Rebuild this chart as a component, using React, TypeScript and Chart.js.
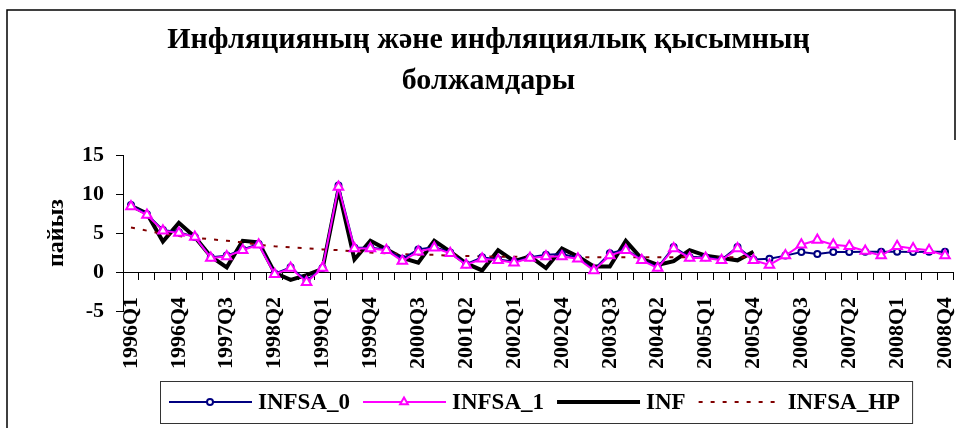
import React, { useEffect, useRef } from 'react';
import { Chart, registerables } from 'chart.js';

Chart.register(...registerables);

const categories = [
  '1996Q1', '1996Q2', '1996Q3', '1996Q4',
  '1997Q1', '1997Q2', '1997Q3', '1997Q4',
  '1998Q1', '1998Q2', '1998Q3', '1998Q4',
  '1999Q1', '1999Q2', '1999Q3', '1999Q4',
  '2000Q1', '2000Q2', '2000Q3', '2000Q4',
  '2001Q1', '2001Q2', '2001Q3', '2001Q4',
  '2002Q1', '2002Q2', '2002Q3', '2002Q4',
  '2003Q1', '2003Q2', '2003Q3', '2003Q4',
  '2004Q1', '2004Q2', '2004Q3', '2004Q4',
  '2005Q1', '2005Q2', '2005Q3', '2005Q4',
  '2006Q1', '2006Q2', '2006Q3', '2006Q4',
  '2007Q1', '2007Q2', '2007Q3', '2007Q4',
  '2008Q1', '2008Q2', '2008Q3', '2008Q4',
];

const tickLabels = [
  '1996Q1', '1996Q4', '1997Q3', '1998Q2', '1999Q1', '1999Q4',
  '2000Q3', '2001Q2', '2002Q1', '2002Q4', '2003Q3', '2004Q2',
  '2005Q1', '2005Q4', '2006Q3', '2007Q2', '2008Q1', '2008Q4',
];

const yTicks = [-5, 0, 5, 10, 15];

const infsa0 = [
  8.6, 7.4, 5.4, 5.1, 4.5, 1.9, 2.1, 2.9, 3.6, -0.2,
  0.6, -1.1, 0.5, 11.1, 3.1, 3.1, 2.9, 1.7, 2.9, 3.2,
  2.5, 1.0, 1.9, 1.6, 1.3, 1.9, 2.2, 2.3, 1.8, 0.3,
  2.4, 2.9, 1.6, 0.6, 3.2, 1.9, 1.9, 1.6, 3.2, 1.6,
  1.7, 2.1, 2.55, 2.3, 2.55, 2.55, 2.6, 2.6, 2.6, 2.55, 2.6, 2.6,
];

const infsa1 = [
  8.4, 7.3, 5.3, 5.0, 4.5, 1.8, 2.0, 2.8, 3.5, -0.3,
  0.5, -1.3, 0.5, 10.9, 3.0, 3.0, 2.8, 1.4, 2.6, 3.1,
  2.4, 0.9, 1.7, 1.5, 1.2, 1.8, 2.0, 2.0, 1.7, 0.2,
  2.1, 2.8, 1.5, 0.5, 3.0, 1.8, 1.8, 1.5, 3.0, 1.5,
  0.9, 2.1, 3.5, 4.1, 3.5, 3.3, 2.7, 2.1, 3.3, 3.0, 2.8, 2.1,
];

const inf = [
  8.5, 7.5, 3.9, 6.3, 4.5, 2.0, 0.6, 4.0, 3.8, -0.1,
  -1.0, -0.4, 0.4, 10.6, 1.6, 4.0, 2.9, 1.8, 1.2, 4.0,
  2.6, 1.1, 0.2, 2.8, 1.4, 2.0, 0.5, 3.0, 2.0, 0.7,
  0.7, 4.0, 1.7, 0.9, 1.4, 2.8, 2.1, 1.8, 1.5, 2.6,
  null, null, null, null, null, null, null, null, null, null, null, null,
];

const infsaHp = [
  5.7, 5.3, 4.9, 4.6, 4.4, 4.2, 4.0, 3.8, 3.5, 3.3,
  3.15, 3.05, 2.9, 2.8, 2.65, 2.5, 2.4, 2.3, 2.2, 2.2,
  2.1, 2.05, 2.0, 1.95, 1.95, 1.95, 1.95, 1.95, 1.9, 1.9,
  1.9, 1.9, 1.9, 1.9, 1.9, 1.9, 1.9, 1.9, 1.9, 1.9,
  null, null, null, null, null, null, null, null, null, null, null, null,
];

const FONT = 'Liberation Serif';

const frameAndLegend = {
  id: 'frameAndLegend',
  afterDraw(chart: any) {
    const ctx = chart.ctx as CanvasRenderingContext2D;
    ctx.save();
    // outer frame
    ctx.strokeStyle = '#000';
    ctx.lineWidth = 1.5;
    ctx.beginPath();
    ctx.moveTo(7, 428);
    ctx.lineTo(7, 10);
    ctx.lineTo(955, 10);
    ctx.lineTo(955, 140);
    ctx.stroke();

    // legend
    const cy = 402;
    ctx.font = `bold 23px "${FONT}"`;
    ctx.textBaseline = 'middle';
    ctx.textAlign = 'left';
    let x = 169;
    chart.data.datasets.forEach((ds: any) => {
      ctx.save();
      ctx.strokeStyle = ds.borderColor;
      ctx.lineWidth = ds.borderWidth;
      ctx.setLineDash(ds.borderDash || []);
      ctx.beginPath();
      ctx.moveTo(x, cy);
      ctx.lineTo(x + 83, cy);
      ctx.stroke();
      ctx.setLineDash([]);
      const mx = x + 41;
      if (ds.pointRadius > 0) {
        ctx.fillStyle = '#fff';
        ctx.strokeStyle = ds.pointBorderColor;
        ctx.lineWidth = 2;
        ctx.beginPath();
        if (ds.pointStyle === 'circle') {
          ctx.arc(mx, cy, 3, 0, Math.PI * 2);
        } else {
          const r = 4.5;
          ctx.moveTo(mx, cy - r);
          ctx.lineTo(mx + r * 0.866, cy + r * 0.5);
          ctx.lineTo(mx - r * 0.866, cy + r * 0.5);
          ctx.closePath();
        }
        ctx.fill();
        ctx.stroke();
      }
      ctx.restore();
      ctx.fillStyle = '#000';
      ctx.fillText(ds.label, x + 89, cy + 1);
      x = x + 89 + ctx.measureText(ds.label).width + 13;
    });
    const right = x - 13 + 12;
    ctx.strokeStyle = '#333';
    ctx.lineWidth = 1;
    ctx.strokeRect(160.5, 381.5, right - 160, 42);
    ctx.restore();
  },
};

export default function App() {
  const ref = useRef<HTMLCanvasElement>(null);

  useEffect(() => {
    document.body.style.margin = '0';
    const tickFont = { family: FONT, size: 22, weight: 'bold' as const };
    const chart = new Chart(ref.current as HTMLCanvasElement, {
      type: 'line',
      data: {
        labels: categories,
        datasets: [
          {
            label: 'INFSA_0',
            data: infsa0,
            borderColor: '#000080',
            borderWidth: 2,
            pointStyle: 'circle',
            pointRadius: 3,
            pointBorderWidth: 2,
            pointBackgroundColor: '#ffffff',
            pointBorderColor: '#000080',
            tension: 0,
            order: 1,
          },
          {
            label: 'INFSA_1',
            data: infsa1,
            borderColor: '#ff00ff',
            borderWidth: 2,
            pointStyle: 'triangle',
            pointRadius: 5.5,
            pointBorderWidth: 2,
            pointBackgroundColor: '#ffffff',
            pointBorderColor: '#ff00ff',
            tension: 0,
            order: 0,
          },
          {
            label: 'INF',
            data: inf,
            borderColor: '#000000',
            borderWidth: 4,
            pointRadius: 0,
            tension: 0,
            order: 3,
          },
          {
            label: 'INFSA_HP',
            data: infsaHp,
            borderColor: '#800000',
            borderWidth: 2,
            borderDash: [4, 8],
            pointRadius: 0,
            tension: 0,
            order: 2,
          },
        ] as any,
      },
      options: {
        animation: false,
        responsive: false,
        layout: { padding: { left: 24, right: 9, top: 0, bottom: 117 } },
        plugins: {
          legend: { display: false },
          tooltip: { enabled: false },
          title: {
            display: true,
            text: ['Инфляцияның және инфляциялық қысымның', 'болжамдары'],
            color: '#000',
            font: { family: FONT, size: 30, weight: 'bold', lineHeight: 1.3667 },
            padding: { top: 20, bottom: 53 },
          },
        },
        scales: {
          x: {
            type: 'category',
            position: { y: -5 },
            offset: true,
            grid: { display: false, drawTicks: false },
            border: { display: false },
            ticks: {
              autoSkip: false,
              minRotation: 90,
              maxRotation: 90,
              padding: -14,
              color: '#000',
              font: tickFont,
              callback: (_v: any, i: number) =>
                tickLabels.includes(categories[i]) ? categories[i] : '',
            },
          } as any,
          x2: {
            type: 'category',
            axis: 'x',
            position: { y: 0 },
            offset: true,
            grid: {
              display: true,
              offset: true,
              drawOnChartArea: false,
              drawTicks: true,
              tickLength: 7,
              color: '#000',
            },
            border: { display: true, color: '#000', width: 1 },
            ticks: { display: false },
          } as any,
          y: {
            min: -5,
            max: 15,
            afterBuildTicks: (s: any) => {
              s.ticks = yTicks.map((v) => ({ value: v }));
            },
            afterFit: (s: any) => {
              s.width = 99;
            },
            ticks: { padding: 12, color: '#000', font: tickFont },
            grid: {
              display: true,
              drawOnChartArea: false,
              drawTicks: true,
              tickLength: 7,
              color: '#000',
            },
            border: { display: true, color: '#000', width: 1 },
            title: {
              display: true,
              text: 'пайыз',
              color: '#000',
              font: { family: FONT, size: 24, weight: 'bold' },
              padding: { top: 18, bottom: 0 },
            },
          },
        },
      },
      plugins: [frameAndLegend],
    });
    return () => chart.destroy();
  }, []);

  return (
    <div style={{ width: 962, height: 428, background: '#fff' }}>
      <canvas ref={ref} width={962} height={428} style={{ display: 'block' }} />
    </div>
  );
}
